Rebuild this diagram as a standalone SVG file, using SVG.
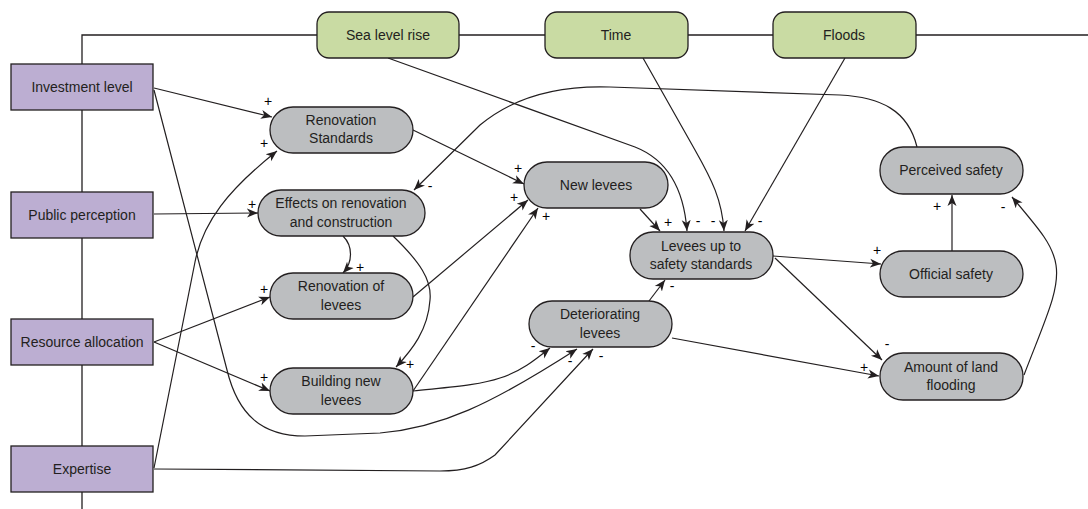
<svg xmlns="http://www.w3.org/2000/svg" width="1088" height="509" viewBox="0 0 1088 509">
<style>
.frame{fill:none;stroke:#231f20;stroke-width:1.3}
.c{fill:none;stroke:#231f20;stroke-width:1.2}
.ca{fill:none;stroke:#231f20;stroke-width:1.2;marker-end:url(#ah)}
.drv rect{fill:#bcaed2;stroke:#231f20;stroke-width:1.3}
.ext rect{fill:#c9dba3;stroke:#231f20;stroke-width:1.3}
.var rect{fill:#bcbec0;stroke:#231f20;stroke-width:1.3}
text{font-family:"Liberation Sans",Arial,sans-serif;font-size:14px;fill:#231f20;text-anchor:middle}
.sg{font-size:14px;fill:#000000}
</style>
<defs>
<marker id="ah" viewBox="-11 -6 12 12" refX="0" refY="0" markerWidth="12" markerHeight="12" markerUnits="userSpaceOnUse" orient="auto">
<path d="M0,0 L-11,-4.5 L-8,0 L-11,4.5 z" fill="#231f20"/>
</marker>
</defs>
<rect width="1088" height="509" fill="#ffffff"/>
<g id="connectors">
<polyline class="frame" points="82,509 82,35 1088,35"/>
<path class="ca" d="M154,88 L272,117"/>
<path class="ca" d="M154,468 L195,262 C203,222 228,190 277,151"/>
<path class="ca" d="M154,214 L258,213"/>
<path class="ca" d="M917,147 C908,110 880,97 840,95 L610,87 C550,85 510,100 480,125 L414,190"/>
<path class="ca" d="M343,236 C353,246 353,262 343,273"/>
<path class="ca" d="M393,236 C420,262 432,280 430,300 C428,330 412,350 396,367"/>
<path class="ca" d="M154,342 L270,297"/>
<path class="ca" d="M154,342 L270,391"/>
<path class="ca" d="M413,130 L524,184"/>
<path class="ca" d="M413,297 L528,200"/>
<path class="ca" d="M413,391 L538,208"/>
<path class="ca" d="M388,58 L635,147 C668,160 684,190 687,231"/>
<path class="ca" d="M643,58 L695,150 C712,180 722,200 724,231"/>
<path class="ca" d="M845,58 L745,231"/>
<path class="ca" d="M640,209 L660,231"/>
<path class="ca" d="M649,301 L665,280"/>
<path class="ca" d="M413,391 C450,387 480,385 500,378 C520,372 535,360 550,348"/>
<path class="ca" d="M154,90 L227,370 C238,415 262,436 305,436 L380,433 C440,428 490,405 577,349"/>
<path class="ca" d="M154,469 L440,471 C465,471 480,466 495,455 L593,349"/>
<path class="ca" d="M773,256 L881,264"/>
<path class="ca" d="M775,258 L882,360"/>
<path class="ca" d="M672,338 L879,376"/>
<path class="ca" d="M952,251 L952,195"/>
<path class="ca" d="M1024,375 C1045,320 1060,290 1056,265 C1053,245 1040,230 1012,197"/>
</g>
<g id="signs">
<text class="sg" x="268" y="106">+</text>
<text class="sg" x="264" y="148">+</text>
<text class="sg" x="252" y="209">+</text>
<text class="sg" x="430" y="191">-</text>
<text class="sg" x="360" y="272">+</text>
<text class="sg" x="264" y="294">+</text>
<text class="sg" x="264" y="382">+</text>
<text class="sg" x="410" y="369">+</text>
<text class="sg" x="518" y="173">+</text>
<text class="sg" x="514" y="202">+</text>
<text class="sg" x="546" y="221">+</text>
<text class="sg" x="668" y="227">+</text>
<text class="sg" x="698" y="226">-</text>
<text class="sg" x="713" y="226">-</text>
<text class="sg" x="760" y="226">-</text>
<text class="sg" x="672" y="291">-</text>
<text class="sg" x="533" y="351">-</text>
<text class="sg" x="570" y="366">-</text>
<text class="sg" x="601" y="361">-</text>
<text class="sg" x="877" y="255">+</text>
<text class="sg" x="887" y="349">-</text>
<text class="sg" x="864" y="372">+</text>
<text class="sg" x="937" y="211">+</text>
<text class="sg" x="1003" y="212">-</text>
</g>
<g id="investment-level" class="drv"><rect x="11" y="64" width="142" height="46"/><text x="82" y="92">Investment level</text></g>
<g id="public-perception" class="drv"><rect x="11" y="192" width="142" height="46"/><text x="82" y="220">Public perception</text></g>
<g id="resource-allocation" class="drv"><rect x="11" y="319" width="142" height="46"/><text x="82" y="347">Resource allocation</text></g>
<g id="expertise" class="drv"><rect x="11" y="446" width="142" height="46"/><text x="82" y="474">Expertise</text></g>
<g id="sea-level-rise" class="ext"><rect x="317" y="12" width="142" height="46" rx="12"/><text x="388" y="40">Sea level rise</text></g>
<g id="time" class="ext"><rect x="545" y="12" width="143" height="46" rx="12"/><text x="616" y="40">Time</text></g>
<g id="floods" class="ext"><rect x="773" y="12" width="143" height="46" rx="12"/><text x="844" y="40">Floods</text></g>
<g id="renovation-standards" class="var"><rect x="270" y="107" width="143" height="46" rx="23"/><text x="341" y="125">Renovation</text><text x="341" y="143">Standards</text></g>
<g id="effects" class="var"><rect x="258" y="190" width="167" height="46" rx="23"/><text x="341" y="208">Effects on renovation</text><text x="341" y="227">and construction</text></g>
<g id="renovation-of-levees" class="var"><rect x="270" y="273" width="143" height="46" rx="23"/><text x="341" y="291">Renovation of</text><text x="341" y="310">levees</text></g>
<g id="building-new-levees" class="var"><rect x="270" y="368" width="143" height="46" rx="23"/><text x="341" y="386">Building new</text><text x="341" y="405">levees</text></g>
<g id="new-levees" class="var"><rect x="524" y="162" width="144" height="46" rx="23"/><text x="596" y="190">New levees</text></g>
<g id="levees-up-to-standards" class="var"><rect x="630" y="232" width="143" height="47" rx="23"/><text x="701" y="251">Levees up to</text><text x="701" y="269">safety standards</text></g>
<g id="deteriorating-levees" class="var"><rect x="529" y="301" width="143" height="46" rx="23"/><text x="600" y="319">Deteriorating</text><text x="600" y="338">levees</text></g>
<g id="perceived-safety" class="var"><rect x="880" y="147" width="143" height="47" rx="23"/><text x="951" y="175">Perceived safety</text></g>
<g id="official-safety" class="var"><rect x="880" y="251" width="143" height="46" rx="23"/><text x="951" y="279">Official safety</text></g>
<g id="amount-of-land-flooding" class="var"><rect x="880" y="353" width="143" height="47" rx="23"/><text x="951" y="372">Amount of land</text><text x="951" y="390">flooding</text></g>
</svg>
